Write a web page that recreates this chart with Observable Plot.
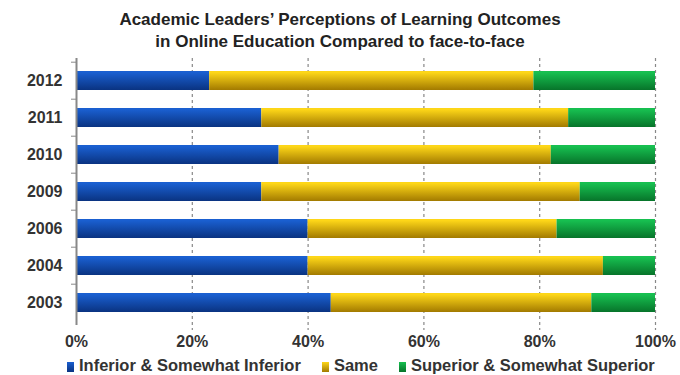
<!DOCTYPE html>
<html><head><meta charset="utf-8">
<script src="https://cdn.jsdelivr.net/npm/d3@7"></script>
<script src="https://cdn.jsdelivr.net/npm/@observablehq/plot@0.6"></script>
<style>
body{margin:0;background:#fff;font-family:"Liberation Sans",Arial,sans-serif;}
#wrap{width:680px;height:375px;position:relative;}
#title{height:55px;box-sizing:border-box;padding-top:9px;text-align:center;font-weight:bold;font-size:17px;line-height:22px;color:#222;}
#legend{height:20px;line-height:20px;font-size:16.5px;font-weight:bold;color:#333;padding-left:67px;white-space:nowrap;}
#legend span.sw{display:inline-block;width:7px;height:10px;margin-right:5px;vertical-align:-1px;}
#legend span.item{margin-right:21px;}
</style></head>
<body><div id="wrap">
<div id="title">Academic Leaders’ Perceptions of Learning Outcomes<br>in Online Education Compared to face-to-face</div>
<div id="chart"></div>
<div id="legend"></div>
</div>
<script>
const years = ["2012","2011","2010","2009","2006","2004","2003"];
const series = ["Inferior & Somewhat Inferior","Same","Superior & Somewhat Superior"];
const inferior = [23,32,35,32,40,40,44];
const same     = [56,53,47,55,43,51,45];
const superior = [21,15,18,13,17,9,11];
const xTicks = [0,20,40,60,80,100];
const gradTop = ["#1a5fd0","#fdd618","#17bf50"];
const gradBot = ["#0a3381","#a27a00","#07742a"];

const values = [inferior, same, superior];
const data = [];
years.forEach((y,i)=>series.forEach((s,j)=>data.push({year:y, series:s, value:values[j][i]})));

const gradIds = series.map((s,j)=>"grad"+j);

const chart = Plot.plot({
  width:680, height:300,
  marginTop:5, marginBottom:32, marginLeft:76, marginRight:25,
  style:{fontFamily:"'Liberation Sans',Arial,sans-serif", fontSize:"16px", fontWeight:"bold", color:"#333", background:"#fff"},
  x:{domain:[0,100]},
  y:{domain:years, paddingInner:0.5, paddingOuter:0.25},
  color:{domain:series, range:gradIds.map(id=>`url(#${id})`)},
  marks:[
    Plot.ruleX(xTicks.slice(1), {stroke:"#888", strokeDasharray:"3,3", strokeWidth:1.2, insetTop:-2, insetBottom:-7}),
    Plot.barX(data, Plot.stackX({x:"value", y:"year", fill:"series", order:series})),
    Plot.axisX(xTicks, {tickSize:0, tickPadding:12, tickFormat:d=>d+"%", fontSize:16, fontWeight:"bold", fill:"#333", label:null}),
    Plot.axisY({tickSize:0, tickPadding:14, fontSize:16, fontWeight:"bold", fill:"#333", label:null}),
    Plot.axisY({tickSize:5, text:null, dy:-18.8, stroke:"#888", label:null}),
    Plot.ruleX([0], {stroke:"#888", strokeWidth:2, insetTop:-2, insetBottom:-2})
  ]
});

// gradient defs
const ns = "http://www.w3.org/2000/svg";
const defs = document.createElementNS(ns,"defs");
gradIds.forEach((id,j)=>{
  const g = document.createElementNS(ns,"linearGradient");
  g.setAttribute("id",id); g.setAttribute("x1","0"); g.setAttribute("y1","0"); g.setAttribute("x2","0"); g.setAttribute("y2","1");
  [[0,gradTop[j]],[0.08,gradTop[j]],[1,gradBot[j]]].forEach(([o,c])=>{
    const st=document.createElementNS(ns,"stop"); st.setAttribute("offset",o); st.setAttribute("stop-color",c); g.appendChild(st);
  });
  defs.appendChild(g);
});
chart.insertBefore(defs, chart.firstChild);
document.getElementById("chart").appendChild(chart);

const leg = document.getElementById("legend");
series.forEach((s,j)=>{
  const it=document.createElement("span"); it.className="item";
  const sw=document.createElement("span"); sw.className="sw";
  sw.style.background=`linear-gradient(${gradTop[j]},${gradBot[j]})`;
  it.appendChild(sw); it.appendChild(document.createTextNode(s));
  leg.appendChild(it);
});
</script>
</body></html>
